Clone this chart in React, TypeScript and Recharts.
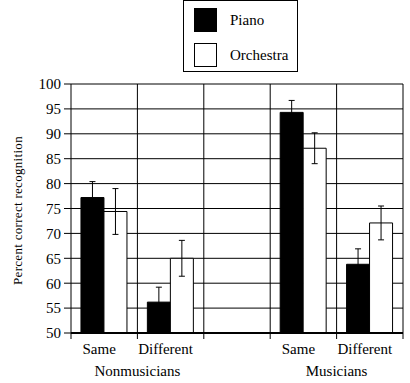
import React from "react";
import { BarChart, Bar, XAxis, YAxis, CartesianGrid, ErrorBar, Legend } from "recharts";

const categories = ["Same", "Different", "", "Same", "Different"];
// group label drawn at the right boundary of the category with the same index
const groupLabelAt = ["Nonmusicians", "", "", "Musicians", ""];
const piano: (number | null)[] = [77.2, 56.2, null, 94.3, 63.8];
const pianoErr: (number | null)[] = [3.2, 3.0, null, 2.4, 3.1];
const orchestra: (number | null)[] = [74.4, 65.0, null, 87.1, 72.1];
const orchestraErr: (number | null)[] = [4.6, 3.6, null, 3.1, 3.4];
const yTicks = [50, 55, 60, 65, 70, 75, 80, 85, 90, 95, 100];

const data = categories.map((c, i) => ({
  cat: c,
  key: i,
  piano: piano[i],
  pianoErr: pianoErr[i],
  orchestra: orchestra[i],
  orchestraErr: orchestraErr[i],
}));

const FONT = "Liberation Serif, DejaVu Serif, serif";

const XTick = (props: any) => {
  const { x, y, payload, index } = props;
  const off = payload.offset || 0;
  const axisY = y - 8;
  const i = payload.value as number;
  return (
    <g>
      <line x1={x - off} x2={x - off} y1={axisY} y2={axisY + 6} stroke="#000" />
      {index === categories.length - 1 && (
        <line x1={x + off} x2={x + off} y1={axisY} y2={axisY + 6} stroke="#000" />
      )}
      <text x={x - 5} y={axisY + 21} textAnchor="middle" fill="#000" fontSize={15} style={{ fontFamily: FONT }}>
        {categories[i]}
      </text>
      {groupLabelAt[i] && (
        <text x={x + off} y={axisY + 43} textAnchor="middle" fill="#000" fontSize={15} style={{ fontFamily: FONT }}>
          {groupLabelAt[i]}
        </text>
      )}
    </g>
  );
};

const YLabel = (props: any) => {
  const vb = props.viewBox || { x: 0, y: 0, width: 0, height: 0 };
  const cx = vb.x + 17;
  const cy = vb.y + vb.height / 2 + 2;
  return (
    <text
      x={cx}
      y={cy}
      transform={`rotate(-90 ${cx} ${cy})`}
      textAnchor="middle"
      dominantBaseline="central"
      fill="#000"
      fontSize={13}
      letterSpacing={0.3}
      style={{ fontFamily: FONT }}
    >
      Percent correct recognition
    </text>
  );
};

const legendItems = [
  { name: "Piano", fill: "#000" },
  { name: "Orchestra", fill: "#fff" },
];

const LegendBox = () => (
  <div
    style={{
      position: "relative",
      width: 115,
      height: 72,
      border: "1px solid #000",
      boxSizing: "border-box",
      background: "#fff",
      fontFamily: FONT,
      fontSize: 15,
      color: "#000",
    }}
  >
    {legendItems.map((it, i) => (
      <div key={it.name} style={{ position: "absolute", left: 10, top: 7 + i * 35, height: 24, display: "flex", alignItems: "center" }}>
        <div style={{ width: 23, height: 24, background: it.fill, border: "1px solid #000", boxSizing: "border-box" }} />
        <span style={{ marginLeft: 13, lineHeight: "24px" }}>{it.name}</span>
      </div>
    ))}
  </div>
);

export default function App() {
  return (
    <div style={{ position: "absolute", left: 0, top: 0, width: 410, height: 383, background: "#fff", fontFamily: FONT }}>
      <BarChart
        width={410}
        height={383}
        data={data}
        margin={{ top: 84, right: 7, left: 0, bottom: 0 }}
        barCategoryGap="15%"
        barGap={0}
        style={{ fontFamily: FONT }}
      >
        <CartesianGrid
          stroke="#000"
          strokeWidth={1}
          verticalCoordinatesGenerator={({ offset }: any) =>
            categories.map((_, i) => offset.left + ((i + 1) * offset.width) / categories.length)
          }
        />
        <XAxis
          dataKey="key"
          type="category"
          height={50}
          tickLine={false}
          tickSize={6}
          tickMargin={2}
          axisLine={{ stroke: "#000", strokeWidth: 2 }}
          tick={<XTick />}
          interval={0}
        />
        <YAxis
          width={71}
          domain={[50, 100]}
          ticks={yTicks}
          interval={0}
          tickSize={7}
          tickMargin={3}
          tickLine={{ stroke: "#000" }}
          axisLine={{ stroke: "#000" }}
          tick={{ fill: "#000", fontSize: 15, style: { fontFamily: FONT } }}
          label={<YLabel />}
          allowDataOverflow
        />
        <Legend
          layout="horizontal"
          verticalAlign="middle"
          align="center"
          wrapperStyle={{ position: "absolute", left: 183, top: 0, width: 115, height: 72 }}
          content={<LegendBox />}
        />
        <Bar dataKey="piano" name="Piano" fill="#000" stroke="#000" strokeWidth={1} isAnimationActive={false}>
          <ErrorBar dataKey="pianoErr" width={3} stroke="#000" strokeWidth={1} isAnimationActive={false} />
        </Bar>
        <Bar dataKey="orchestra" name="Orchestra" fill="#fff" stroke="#000" strokeWidth={1} isAnimationActive={false}>
          <ErrorBar dataKey="orchestraErr" width={3} stroke="#000" strokeWidth={1} isAnimationActive={false} />
        </Bar>
      </BarChart>
    </div>
  );
}
